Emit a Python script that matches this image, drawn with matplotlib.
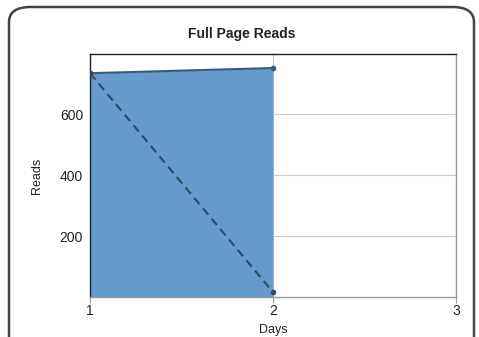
import matplotlib
matplotlib.use("Agg")
import matplotlib.pyplot as plt
from matplotlib.patches import FancyBboxPatch

plt.rcParams['font.family'] = ['Liberation Sans', 'DejaVu Sans']

days = [1, 2]
reads_solid = [734, 751]
reads_dashed = [734, 16]
x_ticks = [1, 2, 3]
y_ticks = [200, 400, 600]

W, H = 479, 337
fig = plt.figure(figsize=(W / 100, H / 100), dpi=100)
card = FancyBboxPatch((9/W, -0.2), 465/W, 1.2 - 7/H,
                      boxstyle="round,pad=0,rounding_size=0.045",
                      transform=fig.transFigure, facecolor='white',
                      edgecolor='#444444', linewidth=1.8, zorder=-5)
fig.patches.append(card)

ax = fig.add_axes([90/W, 1 - 297/H, 366/W, 243/H])
ax.set_zorder(1)
ax.set_xlim(1, 3)
ax.set_ylim(0, 797)
ax.set_xticks(x_ticks)
ax.set_yticks(y_ticks)
ax.grid(True, color='#cccccc', linewidth=0.8, zorder=0)
ax.set_axisbelow(True)

ax.fill_between(days, reads_solid, 0, color='#6699cc', zorder=2, linewidth=0)
ax.plot(days, reads_solid, color='#3a5a78', linewidth=1.5, marker='o', markersize=3, zorder=3)
ax.plot(days, reads_dashed, color='#2e4a66', linewidth=1.5, linestyle=(0, (4, 2.5)),
        marker='o', markersize=3, zorder=3)

for s in ['left', 'top']:
    ax.spines[s].set_color('#222222')
    ax.spines[s].set_linewidth(1.0)
for s in ['right', 'bottom']:
    ax.spines[s].set_color('#999999')
    ax.spines[s].set_linewidth(1.0)

ax.tick_params(axis='both', length=0, labelsize=10, colors='#222222', pad=5)
ax.tick_params(axis='x', length=4, color='#999999', pad=1)
fig.text(242/W, 1 - 34/H, 'Full Page Reads', ha='center', va='center',
         fontsize=10, fontweight='bold', color='#222222')
ax.set_xlabel('Days', fontsize=9, color='#222222', labelpad=4)
ax.set_ylabel('Reads', fontsize=9, color='#222222', labelpad=12)

fig.savefig('out.png', dpi=100)
